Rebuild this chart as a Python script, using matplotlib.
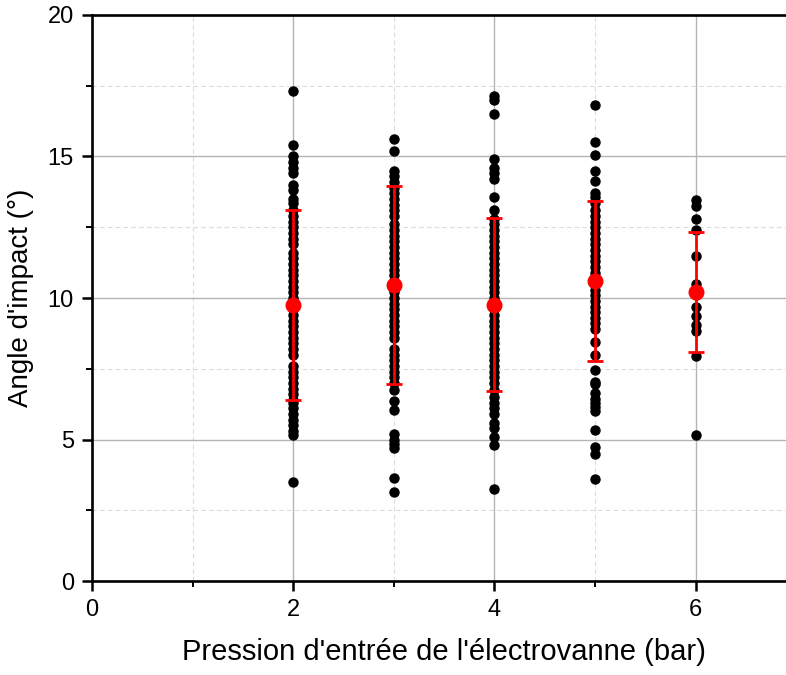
import matplotlib.pyplot as plt
from matplotlib.ticker import MultipleLocator

plt.rcParams['font.family'] = ['Liberation Sans', 'DejaVu Sans']

# pressions (bar)
pressions = [2, 3, 4, 5, 6]

angles_2bar = [17.3, 15.4, 15.0, 14.8, 14.6, 14.4, 14.0, 13.8, 13.5, 13.35,
               13.1, 12.9, 12.7, 12.5, 12.3, 12.1, 11.9, 11.6, 11.4, 11.2,
               11.0, 10.8, 10.6, 10.4, 10.2, 10.0, 9.8, 9.6, 9.4, 9.2,
               9.0, 8.8, 8.6, 8.4, 8.2, 8.0, 7.6, 7.4, 7.2, 7.0,
               6.8, 6.6, 6.4, 6.3, 6.1, 5.9, 5.7, 5.5, 5.3, 5.15, 3.5]
angles_3bar = [15.6, 15.2, 14.5, 14.3, 14.1, 13.9, 13.7, 13.5, 13.3, 13.1,
               12.9, 12.6, 12.4, 12.2, 12.0, 11.8, 11.6, 11.4, 11.2, 11.0,
               10.8, 10.6, 10.4, 10.2, 10.0, 9.8, 9.6, 9.4, 9.2, 9.0,
               8.8, 8.6, 8.2, 8.0, 7.8, 7.6, 7.4, 7.2, 7.0, 6.75,
               6.35, 6.05, 5.2, 5.0, 4.85, 4.7, 3.65, 3.15]
angles_4bar = [17.15, 17.0, 16.5, 14.9, 14.6, 14.4, 14.2, 13.55, 13.1, 12.8,
               12.6, 12.4, 12.2, 12.0, 11.8, 11.6, 11.4, 11.2, 11.0, 10.8,
               10.6, 10.4, 10.2, 10.0, 9.8, 9.6, 9.4, 9.2, 9.0, 8.8,
               8.6, 8.4, 8.2, 8.0, 7.8, 7.6, 7.4, 7.2, 7.0, 6.75,
               6.5, 6.3, 6.1, 5.9, 5.6, 5.4, 5.1, 4.8, 3.25]
angles_5bar = [16.8, 15.5, 15.05, 14.5, 14.15, 13.7, 13.55, 13.35, 13.1, 12.9,
               12.7, 12.5, 12.3, 12.1, 11.9, 11.7, 11.5, 11.3, 11.1, 10.9,
               10.7, 10.5, 10.3, 10.1, 9.9, 9.7, 9.5, 9.3, 9.1, 8.9,
               8.45, 8.0, 7.45, 7.05, 6.95, 6.65, 6.45, 6.3, 6.15, 6.0,
               5.35, 4.75, 4.5, 3.6]
angles_6bar = [13.45, 13.25, 12.8, 12.4, 11.5, 10.5, 10.3, 10.1, 9.7, 9.35,
               9.05, 8.85, 7.95, 5.15]

# moyennes et écarts-types
moyennes = [9.75, 10.46, 9.77, 10.6, 10.22]
ecarts = [3.35, 3.5, 3.07, 2.83, 2.12]

series = [angles_2bar, angles_3bar, angles_4bar, angles_5bar, angles_6bar]

fig = plt.figure(figsize=(7.86, 6.75), dpi=100)
ax = fig.add_axes([0.117, 0.139, 0.896, 0.839])

for p, vals in zip(pressions, series):
    ax.plot([p] * len(vals), vals, 'o', color='black', markersize=6.5,
            zorder=3, clip_on=False)

ax.errorbar(pressions, moyennes, yerr=ecarts, fmt='o', color='red',
            markersize=10.5, elinewidth=2, capsize=6, capthick=2, zorder=4)

ax.set_xlim(0, 7)
ax.set_ylim(0, 20)
ax.xaxis.set_major_locator(MultipleLocator(2))
ax.xaxis.set_minor_locator(MultipleLocator(1))
ax.yaxis.set_major_locator(MultipleLocator(5))
ax.yaxis.set_minor_locator(MultipleLocator(2.5))

ax.grid(which='major', color='#b4b4b4', linewidth=1.0)
ax.grid(which='minor', color='#dcdcdc', linewidth=0.8, linestyle=(0, (4, 3)))
ax.set_axisbelow(True)

for s in ax.spines.values():
    s.set_linewidth(1.9)
ax.tick_params(which='major', direction='out', length=7, width=1.8,
               labelsize=17, pad=6)
ax.tick_params(which='minor', direction='out', length=4, width=1.4)

ax.set_xlabel("Pression d'entrée de l'électrovanne (bar)", fontsize=21, labelpad=12)
ax.set_ylabel("Angle d'impact (°)", fontsize=20, labelpad=10)

fig.savefig('out.png', dpi=100)
